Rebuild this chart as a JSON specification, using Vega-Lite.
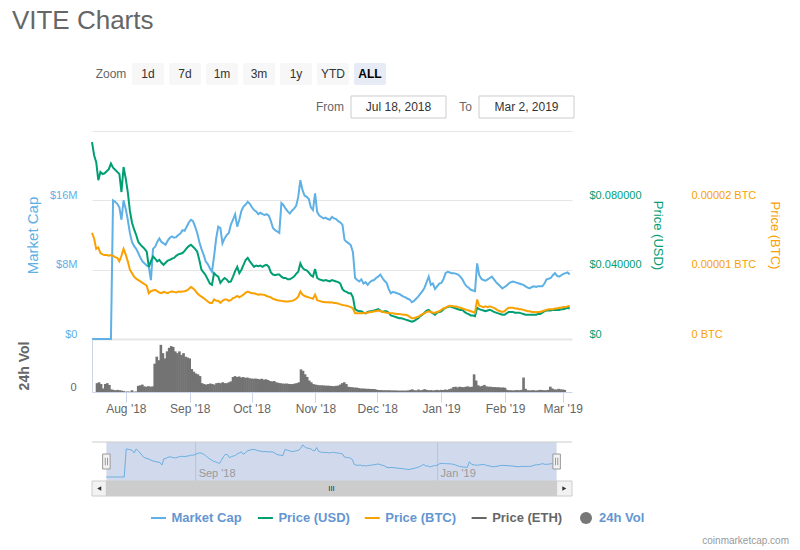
{
  "$schema": "https://vega.github.io/schema/vega-lite/v6.json",
  "padding": {"left": 11, "top": 8, "right": 4, "bottom": 0},
  "background": "#ffffff",
  "title": {
    "text": "VITE Charts",
    "anchor": "start",
    "fontSize": 26,
    "fontWeight": "normal",
    "color": "#666666",
    "offset": 28,
    "dx": -6
  },
  "bounds": "flush",
  "spacing": 0,
  "config": {
    "font": "Liberation Sans",
    "view": {"stroke": null},
    "axis": {"labelFontSize": 11}
  },
  "datasets": {
    "vite": [
      {"t": "2018-07-18", "mc": 0, "usd": 0.1136, "btc": 1.53e-5, "vol": 0.5},
      {"t": "2018-07-19", "mc": 0, "usd": 0.106, "btc": 1.45e-5, "vol": 0.55},
      {"t": "2018-07-20", "mc": 0, "usd": 0.102, "btc": 1.30e-5, "vol": 0.45},
      {"t": "2018-07-21", "mc": 0, "usd": 0.0916, "btc": 1.32e-5, "vol": 0.2},
      {"t": "2018-07-22", "mc": 0, "usd": 0.0964, "btc": 1.24e-5, "vol": 0.45},
      {"t": "2018-07-23", "mc": 0, "usd": 0.0952, "btc": 1.22e-5, "vol": 0.5},
      {"t": "2018-07-24", "mc": 0, "usd": 0.0956, "btc": 1.21e-5, "vol": 0.4},
      {"t": "2018-07-25", "mc": 0, "usd": 0.0968, "btc": 1.21e-5, "vol": 0.15},
      {"t": "2018-07-26", "mc": 0, "usd": 0.098, "btc": 1.20e-5, "vol": 0.12},
      {"t": "2018-07-27", "mc": 0, "usd": 0.1012, "btc": 1.21e-5, "vol": 0.1},
      {"t": "2018-07-28", "mc": 16.0, "usd": 0.0988, "btc": 1.20e-5, "vol": 0.12},
      {"t": "2018-07-29", "mc": 15.84, "usd": 0.0976, "btc": 1.18e-5, "vol": 0.1},
      {"t": "2018-07-30", "mc": 15.6, "usd": 0.0964, "btc": 1.17e-5, "vol": 0.08},
      {"t": "2018-07-31", "mc": 15.2, "usd": 0.0952, "btc": 1.12e-5, "vol": 0.05},
      {"t": "2018-08-01", "mc": 13.76, "usd": 0.0848, "btc": 1.20e-5, "vol": 0.02},
      {"t": "2018-08-02", "mc": 16.0, "usd": 0.0992, "btc": 1.30e-5, "vol": 0.03},
      {"t": "2018-08-03", "mc": 15.04, "usd": 0.0928, "btc": 1.22e-5, "vol": 0.02},
      {"t": "2018-08-04", "mc": 13.76, "usd": 0.0848, "btc": 1.12e-5, "vol": 0.1},
      {"t": "2018-08-05", "mc": 12.24, "usd": 0.074, "btc": 1.00e-5, "vol": 0.02},
      {"t": "2018-08-06", "mc": 11.2, "usd": 0.0672, "btc": 0.95e-5, "vol": 0.03},
      {"t": "2018-08-07", "mc": 10.72, "usd": 0.0632, "btc": 0.90e-5, "vol": 0.35},
      {"t": "2018-08-08", "mc": 10.4, "usd": 0.06, "btc": 0.87e-5, "vol": 0.38},
      {"t": "2018-08-09", "mc": 9.92, "usd": 0.056, "btc": 0.85e-5, "vol": 0.42},
      {"t": "2018-08-10", "mc": 9.36, "usd": 0.0544, "btc": 0.83e-5, "vol": 0.32},
      {"t": "2018-08-11", "mc": 8.96, "usd": 0.0532, "btc": 0.81e-5, "vol": 0.3},
      {"t": "2018-08-12", "mc": 8.72, "usd": 0.052, "btc": 0.79e-5, "vol": 0.33},
      {"t": "2018-08-13", "mc": 8.48, "usd": 0.0504, "btc": 0.77e-5, "vol": 0.3},
      {"t": "2018-08-14", "mc": 8.32, "usd": 0.0416, "btc": 0.66e-5, "vol": 0.32},
      {"t": "2018-08-15", "mc": 6.8, "usd": 0.0448, "btc": 0.69e-5, "vol": 1.6},
      {"t": "2018-08-16", "mc": 10.4, "usd": 0.0476, "btc": 0.70e-5, "vol": 2.0},
      {"t": "2018-08-17", "mc": 10.64, "usd": 0.0464, "btc": 0.71e-5, "vol": 1.8},
      {"t": "2018-08-18", "mc": 11.2, "usd": 0.0448, "btc": 0.69e-5, "vol": 2.67},
      {"t": "2018-08-19", "mc": 11.6, "usd": 0.0456, "btc": 0.67e-5, "vol": 2.2},
      {"t": "2018-08-20", "mc": 11.2, "usd": 0.044, "btc": 0.66e-5, "vol": 1.9},
      {"t": "2018-08-21", "mc": 11.04, "usd": 0.0428, "btc": 0.68e-5, "vol": 2.3},
      {"t": "2018-08-22", "mc": 10.88, "usd": 0.044, "btc": 0.67e-5, "vol": 2.5},
      {"t": "2018-08-23", "mc": 11.36, "usd": 0.0452, "btc": 0.66e-5, "vol": 2.6},
      {"t": "2018-08-24", "mc": 11.68, "usd": 0.0456, "btc": 0.68e-5, "vol": 2.55},
      {"t": "2018-08-25", "mc": 11.84, "usd": 0.0464, "btc": 0.685e-5, "vol": 2.3},
      {"t": "2018-08-26", "mc": 11.68, "usd": 0.0468, "btc": 0.68e-5, "vol": 2.2},
      {"t": "2018-08-27", "mc": 11.76, "usd": 0.048, "btc": 0.67e-5, "vol": 2.3},
      {"t": "2018-08-28", "mc": 12.0, "usd": 0.0488, "btc": 0.685e-5, "vol": 2.1},
      {"t": "2018-08-29", "mc": 12.16, "usd": 0.0492, "btc": 0.68e-5, "vol": 2.2},
      {"t": "2018-08-30", "mc": 12.56, "usd": 0.0496, "btc": 0.685e-5, "vol": 2.0},
      {"t": "2018-08-31", "mc": 12.48, "usd": 0.0508, "btc": 0.69e-5, "vol": 1.95},
      {"t": "2018-09-01", "mc": 12.96, "usd": 0.0524, "btc": 0.70e-5, "vol": 1.9},
      {"t": "2018-09-02", "mc": 13.44, "usd": 0.0536, "btc": 0.72e-5, "vol": 1.3},
      {"t": "2018-09-03", "mc": 13.76, "usd": 0.0544, "btc": 0.75e-5, "vol": 1.15},
      {"t": "2018-09-04", "mc": 13.6, "usd": 0.0532, "btc": 0.73e-5, "vol": 1.05},
      {"t": "2018-09-05", "mc": 12.96, "usd": 0.052, "btc": 0.70e-5, "vol": 1.0},
      {"t": "2018-09-06", "mc": 12.24, "usd": 0.0504, "btc": 0.66e-5, "vol": 0.9},
      {"t": "2018-09-07", "mc": 11.2, "usd": 0.0456, "btc": 0.63e-5, "vol": 0.5},
      {"t": "2018-09-08", "mc": 10.4, "usd": 0.04, "btc": 0.61e-5, "vol": 0.45},
      {"t": "2018-09-09", "mc": 9.76, "usd": 0.0384, "btc": 0.59e-5, "vol": 0.42},
      {"t": "2018-09-10", "mc": 8.96, "usd": 0.0368, "btc": 0.565e-5, "vol": 0.45},
      {"t": "2018-09-11", "mc": 8.64, "usd": 0.0344, "btc": 0.54e-5, "vol": 0.48},
      {"t": "2018-09-12", "mc": 8.16, "usd": 0.032, "btc": 0.52e-5, "vol": 0.45},
      {"t": "2018-09-13", "mc": 7.76, "usd": 0.0312, "btc": 0.52e-5, "vol": 0.42},
      {"t": "2018-09-14", "mc": 9.52, "usd": 0.038, "btc": 0.57e-5, "vol": 0.5},
      {"t": "2018-09-15", "mc": 11.6, "usd": 0.0368, "btc": 0.55e-5, "vol": 0.52},
      {"t": "2018-09-16", "mc": 12.96, "usd": 0.036, "btc": 0.55e-5, "vol": 0.5},
      {"t": "2018-09-17", "mc": 12.8, "usd": 0.0324, "btc": 0.52e-5, "vol": 0.55},
      {"t": "2018-09-18", "mc": 11.04, "usd": 0.034, "btc": 0.55e-5, "vol": 0.5},
      {"t": "2018-09-19", "mc": 11.6, "usd": 0.0352, "btc": 0.57e-5, "vol": 0.5},
      {"t": "2018-09-20", "mc": 12.0, "usd": 0.0344, "btc": 0.57e-5, "vol": 0.55},
      {"t": "2018-09-21", "mc": 12.24, "usd": 0.0328, "btc": 0.55e-5, "vol": 0.6},
      {"t": "2018-09-22", "mc": 13.2, "usd": 0.0332, "btc": 0.56e-5, "vol": 0.85},
      {"t": "2018-09-23", "mc": 13.76, "usd": 0.036, "btc": 0.59e-5, "vol": 0.9},
      {"t": "2018-09-24", "mc": 14.4, "usd": 0.0392, "btc": 0.60e-5, "vol": 0.85},
      {"t": "2018-09-25", "mc": 12.96, "usd": 0.0416, "btc": 0.62e-5, "vol": 0.88},
      {"t": "2018-09-26", "mc": 13.76, "usd": 0.038, "btc": 0.60e-5, "vol": 0.82},
      {"t": "2018-09-27", "mc": 14.8, "usd": 0.04, "btc": 0.62e-5, "vol": 0.85},
      {"t": "2018-09-28", "mc": 15.28, "usd": 0.0428, "btc": 0.64e-5, "vol": 0.8},
      {"t": "2018-09-29", "mc": 15.52, "usd": 0.0456, "btc": 0.67e-5, "vol": 0.82},
      {"t": "2018-09-30", "mc": 15.84, "usd": 0.0468, "btc": 0.685e-5, "vol": 0.78},
      {"t": "2018-10-01", "mc": 15.6, "usd": 0.0448, "btc": 0.67e-5, "vol": 0.76},
      {"t": "2018-10-02", "mc": 15.2, "usd": 0.0432, "btc": 0.66e-5, "vol": 0.75},
      {"t": "2018-10-03", "mc": 14.88, "usd": 0.0416, "btc": 0.66e-5, "vol": 0.76},
      {"t": "2018-10-04", "mc": 14.72, "usd": 0.0424, "btc": 0.65e-5, "vol": 0.74},
      {"t": "2018-10-05", "mc": 14.4, "usd": 0.042, "btc": 0.64e-5, "vol": 0.72},
      {"t": "2018-10-06", "mc": 14.56, "usd": 0.0424, "btc": 0.645e-5, "vol": 0.75},
      {"t": "2018-10-07", "mc": 14.4, "usd": 0.0416, "btc": 0.64e-5, "vol": 0.7},
      {"t": "2018-10-08", "mc": 14.32, "usd": 0.0424, "btc": 0.635e-5, "vol": 0.72},
      {"t": "2018-10-09", "mc": 14.4, "usd": 0.0428, "btc": 0.62e-5, "vol": 0.68},
      {"t": "2018-10-10", "mc": 14.24, "usd": 0.0416, "btc": 0.61e-5, "vol": 0.62},
      {"t": "2018-10-11", "mc": 13.6, "usd": 0.0384, "btc": 0.60e-5, "vol": 0.6},
      {"t": "2018-10-12", "mc": 12.8, "usd": 0.0372, "btc": 0.58e-5, "vol": 0.62},
      {"t": "2018-10-13", "mc": 12.56, "usd": 0.0368, "btc": 0.57e-5, "vol": 0.55},
      {"t": "2018-10-14", "mc": 12.4, "usd": 0.0372, "btc": 0.56e-5, "vol": 0.52},
      {"t": "2018-10-15", "mc": 12.24, "usd": 0.0372, "btc": 0.555e-5, "vol": 0.5},
      {"t": "2018-10-16", "mc": 15.68, "usd": 0.036, "btc": 0.55e-5, "vol": 0.48},
      {"t": "2018-10-17", "mc": 15.44, "usd": 0.0352, "btc": 0.545e-5, "vol": 0.47},
      {"t": "2018-10-18", "mc": 15.04, "usd": 0.0352, "btc": 0.54e-5, "vol": 0.48},
      {"t": "2018-10-19", "mc": 14.72, "usd": 0.0344, "btc": 0.54e-5, "vol": 0.46},
      {"t": "2018-10-20", "mc": 14.48, "usd": 0.0344, "btc": 0.545e-5, "vol": 0.45},
      {"t": "2018-10-21", "mc": 14.8, "usd": 0.0352, "btc": 0.55e-5, "vol": 0.45},
      {"t": "2018-10-22", "mc": 15.04, "usd": 0.036, "btc": 0.56e-5, "vol": 0.48},
      {"t": "2018-10-23", "mc": 15.36, "usd": 0.0376, "btc": 0.58e-5, "vol": 0.5},
      {"t": "2018-10-24", "mc": 16.4, "usd": 0.0388, "btc": 0.61e-5, "vol": 0.55},
      {"t": "2018-10-25", "mc": 18.32, "usd": 0.0436, "btc": 0.685e-5, "vol": 1.28},
      {"t": "2018-10-26", "mc": 17.2, "usd": 0.0412, "btc": 0.64e-5, "vol": 1.2},
      {"t": "2018-10-27", "mc": 16.56, "usd": 0.04, "btc": 0.62e-5, "vol": 1.0},
      {"t": "2018-10-28", "mc": 16.4, "usd": 0.0396, "btc": 0.61e-5, "vol": 0.85},
      {"t": "2018-10-29", "mc": 16.16, "usd": 0.0384, "btc": 0.60e-5, "vol": 0.65},
      {"t": "2018-10-30", "mc": 15.2, "usd": 0.0368, "btc": 0.59e-5, "vol": 0.55},
      {"t": "2018-10-31", "mc": 14.88, "usd": 0.036, "btc": 0.58e-5, "vol": 0.45},
      {"t": "2018-11-01", "mc": 16.8, "usd": 0.0404, "btc": 0.64e-5, "vol": 0.42},
      {"t": "2018-11-02", "mc": 14.64, "usd": 0.0352, "btc": 0.56e-5, "vol": 0.4},
      {"t": "2018-11-03", "mc": 14.24, "usd": 0.0344, "btc": 0.55e-5, "vol": 0.38},
      {"t": "2018-11-04", "mc": 14.08, "usd": 0.034, "btc": 0.54e-5, "vol": 0.38},
      {"t": "2018-11-05", "mc": 13.92, "usd": 0.0336, "btc": 0.535e-5, "vol": 0.37},
      {"t": "2018-11-06", "mc": 14.0, "usd": 0.034, "btc": 0.53e-5, "vol": 0.36},
      {"t": "2018-11-07", "mc": 13.84, "usd": 0.0336, "btc": 0.53e-5, "vol": 0.36},
      {"t": "2018-11-08", "mc": 13.76, "usd": 0.0332, "btc": 0.525e-5, "vol": 0.35},
      {"t": "2018-11-09", "mc": 14.08, "usd": 0.034, "btc": 0.53e-5, "vol": 0.34},
      {"t": "2018-11-10", "mc": 13.92, "usd": 0.0336, "btc": 0.52e-5, "vol": 0.33},
      {"t": "2018-11-11", "mc": 13.84, "usd": 0.0332, "btc": 0.52e-5, "vol": 0.35},
      {"t": "2018-11-12", "mc": 13.6, "usd": 0.0328, "btc": 0.51e-5, "vol": 0.36},
      {"t": "2018-11-13", "mc": 13.44, "usd": 0.032, "btc": 0.50e-5, "vol": 0.42},
      {"t": "2018-11-14", "mc": 13.2, "usd": 0.0288, "btc": 0.49e-5, "vol": 0.5},
      {"t": "2018-11-15", "mc": 11.44, "usd": 0.0276, "btc": 0.485e-5, "vol": 0.55},
      {"t": "2018-11-16", "mc": 11.2, "usd": 0.0272, "btc": 0.48e-5, "vol": 0.45},
      {"t": "2018-11-17", "mc": 11.04, "usd": 0.0264, "btc": 0.47e-5, "vol": 0.3},
      {"t": "2018-11-18", "mc": 10.8, "usd": 0.0264, "btc": 0.46e-5, "vol": 0.28},
      {"t": "2018-11-19", "mc": 10.0, "usd": 0.024, "btc": 0.44e-5, "vol": 0.27},
      {"t": "2018-11-20", "mc": 7.04, "usd": 0.0172, "btc": 0.37e-5, "vol": 0.25},
      {"t": "2018-11-21", "mc": 6.8, "usd": 0.0164, "btc": 0.37e-5, "vol": 0.25},
      {"t": "2018-11-22", "mc": 6.64, "usd": 0.016, "btc": 0.37e-5, "vol": 0.22},
      {"t": "2018-11-23", "mc": 6.88, "usd": 0.016, "btc": 0.375e-5, "vol": 0.2},
      {"t": "2018-11-24", "mc": 6.4, "usd": 0.0152, "btc": 0.37e-5, "vol": 0.2},
      {"t": "2018-11-25", "mc": 6.56, "usd": 0.0148, "btc": 0.38e-5, "vol": 0.19},
      {"t": "2018-11-26", "mc": 6.24, "usd": 0.0156, "btc": 0.38e-5, "vol": 0.18},
      {"t": "2018-11-27", "mc": 6.56, "usd": 0.016, "btc": 0.39e-5, "vol": 0.18},
      {"t": "2018-11-28", "mc": 6.72, "usd": 0.016, "btc": 0.39e-5, "vol": 0.17},
      {"t": "2018-11-29", "mc": 6.8, "usd": 0.0164, "btc": 0.40e-5, "vol": 0.17},
      {"t": "2018-11-30", "mc": 7.04, "usd": 0.0168, "btc": 0.40e-5, "vol": 0.16},
      {"t": "2018-12-01", "mc": 7.2, "usd": 0.0172, "btc": 0.41e-5, "vol": 0.12},
      {"t": "2018-12-02", "mc": 7.44, "usd": 0.0164, "btc": 0.405e-5, "vol": 0.11},
      {"t": "2018-12-03", "mc": 7.04, "usd": 0.0156, "btc": 0.39e-5, "vol": 0.11},
      {"t": "2018-12-04", "mc": 6.72, "usd": 0.016, "btc": 0.385e-5, "vol": 0.1},
      {"t": "2018-12-05", "mc": 6.48, "usd": 0.016, "btc": 0.38e-5, "vol": 0.1},
      {"t": "2018-12-06", "mc": 5.76, "usd": 0.0152, "btc": 0.375e-5, "vol": 0.1},
      {"t": "2018-12-07", "mc": 5.28, "usd": 0.0136, "btc": 0.37e-5, "vol": 0.1},
      {"t": "2018-12-08", "mc": 5.44, "usd": 0.0132, "btc": 0.37e-5, "vol": 0.09},
      {"t": "2018-12-09", "mc": 5.36, "usd": 0.0128, "btc": 0.365e-5, "vol": 0.09},
      {"t": "2018-12-10", "mc": 5.28, "usd": 0.0124, "btc": 0.36e-5, "vol": 0.09},
      {"t": "2018-12-11", "mc": 5.2, "usd": 0.012, "btc": 0.36e-5, "vol": 0.08},
      {"t": "2018-12-12", "mc": 5.04, "usd": 0.012, "btc": 0.355e-5, "vol": 0.08},
      {"t": "2018-12-13", "mc": 4.88, "usd": 0.0116, "btc": 0.35e-5, "vol": 0.08},
      {"t": "2018-12-14", "mc": 4.8, "usd": 0.0112, "btc": 0.35e-5, "vol": 0.08},
      {"t": "2018-12-15", "mc": 4.64, "usd": 0.0108, "btc": 0.34e-5, "vol": 0.08},
      {"t": "2018-12-16", "mc": 4.56, "usd": 0.0104, "btc": 0.32e-5, "vol": 0.09},
      {"t": "2018-12-17", "mc": 4.24, "usd": 0.01, "btc": 0.30e-5, "vol": 0.12},
      {"t": "2018-12-18", "mc": 4.4, "usd": 0.0104, "btc": 0.30e-5, "vol": 0.15},
      {"t": "2018-12-19", "mc": 4.64, "usd": 0.0112, "btc": 0.31e-5, "vol": 0.1},
      {"t": "2018-12-20", "mc": 4.88, "usd": 0.012, "btc": 0.32e-5, "vol": 0.09},
      {"t": "2018-12-21", "mc": 5.2, "usd": 0.0132, "btc": 0.34e-5, "vol": 0.14},
      {"t": "2018-12-22", "mc": 5.52, "usd": 0.014, "btc": 0.36e-5, "vol": 0.1},
      {"t": "2018-12-23", "mc": 5.92, "usd": 0.0152, "btc": 0.37e-5, "vol": 0.12},
      {"t": "2018-12-24", "mc": 6.56, "usd": 0.0164, "btc": 0.39e-5, "vol": 0.16},
      {"t": "2018-12-25", "mc": 7.2, "usd": 0.0168, "btc": 0.40e-5, "vol": 0.12},
      {"t": "2018-12-26", "mc": 6.24, "usd": 0.0156, "btc": 0.39e-5, "vol": 0.1},
      {"t": "2018-12-27", "mc": 6.4, "usd": 0.0148, "btc": 0.38e-5, "vol": 0.11},
      {"t": "2018-12-28", "mc": 5.76, "usd": 0.014, "btc": 0.38e-5, "vol": 0.09},
      {"t": "2018-12-29", "mc": 6.08, "usd": 0.0152, "btc": 0.39e-5, "vol": 0.1},
      {"t": "2018-12-30", "mc": 6.4, "usd": 0.0156, "btc": 0.40e-5, "vol": 0.12},
      {"t": "2018-12-31", "mc": 6.48, "usd": 0.016, "btc": 0.42e-5, "vol": 0.1},
      {"t": "2019-01-01", "mc": 6.88, "usd": 0.0172, "btc": 0.44e-5, "vol": 0.12},
      {"t": "2019-01-02", "mc": 7.6, "usd": 0.018, "btc": 0.45e-5, "vol": 0.11},
      {"t": "2019-01-03", "mc": 7.76, "usd": 0.0184, "btc": 0.47e-5, "vol": 0.14},
      {"t": "2019-01-04", "mc": 7.68, "usd": 0.0188, "btc": 0.48e-5, "vol": 0.12},
      {"t": "2019-01-05", "mc": 7.6, "usd": 0.0184, "btc": 0.475e-5, "vol": 0.16},
      {"t": "2019-01-06", "mc": 7.6, "usd": 0.018, "btc": 0.47e-5, "vol": 0.2},
      {"t": "2019-01-07", "mc": 7.52, "usd": 0.0176, "btc": 0.47e-5, "vol": 0.28},
      {"t": "2019-01-08", "mc": 7.44, "usd": 0.0172, "btc": 0.46e-5, "vol": 0.3},
      {"t": "2019-01-09", "mc": 7.2, "usd": 0.0168, "btc": 0.45e-5, "vol": 0.26},
      {"t": "2019-01-10", "mc": 6.88, "usd": 0.0168, "btc": 0.44e-5, "vol": 0.3},
      {"t": "2019-01-11", "mc": 6.4, "usd": 0.0156, "btc": 0.43e-5, "vol": 0.28},
      {"t": "2019-01-12", "mc": 6.08, "usd": 0.0148, "btc": 0.42e-5, "vol": 0.27},
      {"t": "2019-01-13", "mc": 5.92, "usd": 0.0144, "btc": 0.41e-5, "vol": 0.3},
      {"t": "2019-01-14", "mc": 5.68, "usd": 0.0136, "btc": 0.40e-5, "vol": 0.32},
      {"t": "2019-01-15", "mc": 5.6, "usd": 0.0136, "btc": 0.39e-5, "vol": 0.28},
      {"t": "2019-01-16", "mc": 5.52, "usd": 0.0132, "btc": 0.38e-5, "vol": 0.3},
      {"t": "2019-01-17", "mc": 8.72, "usd": 0.018, "btc": 0.57e-5, "vol": 1.0},
      {"t": "2019-01-18", "mc": 7.36, "usd": 0.0172, "btc": 0.48e-5, "vol": 0.65},
      {"t": "2019-01-19", "mc": 6.96, "usd": 0.0168, "btc": 0.47e-5, "vol": 0.38},
      {"t": "2019-01-20", "mc": 6.8, "usd": 0.0164, "btc": 0.46e-5, "vol": 0.32},
      {"t": "2019-01-21", "mc": 6.72, "usd": 0.016, "btc": 0.47e-5, "vol": 0.35},
      {"t": "2019-01-22", "mc": 6.88, "usd": 0.0164, "btc": 0.46e-5, "vol": 0.4},
      {"t": "2019-01-23", "mc": 7.04, "usd": 0.0168, "btc": 0.47e-5, "vol": 0.32},
      {"t": "2019-01-24", "mc": 7.2, "usd": 0.0164, "btc": 0.46e-5, "vol": 0.3},
      {"t": "2019-01-25", "mc": 6.88, "usd": 0.0156, "btc": 0.45e-5, "vol": 0.3},
      {"t": "2019-01-26", "mc": 6.56, "usd": 0.0152, "btc": 0.43e-5, "vol": 0.28},
      {"t": "2019-01-27", "mc": 6.32, "usd": 0.0148, "btc": 0.41e-5, "vol": 0.28},
      {"t": "2019-01-28", "mc": 6.08, "usd": 0.0144, "btc": 0.40e-5, "vol": 0.27},
      {"t": "2019-01-29", "mc": 5.84, "usd": 0.014, "btc": 0.39e-5, "vol": 0.27},
      {"t": "2019-01-30", "mc": 6.0, "usd": 0.014, "btc": 0.40e-5, "vol": 0.25},
      {"t": "2019-01-31", "mc": 6.16, "usd": 0.0148, "btc": 0.43e-5, "vol": 0.26},
      {"t": "2019-02-01", "mc": 6.4, "usd": 0.0156, "btc": 0.45e-5, "vol": 0.24},
      {"t": "2019-02-02", "mc": 6.56, "usd": 0.0156, "btc": 0.45e-5, "vol": 0.12},
      {"t": "2019-02-03", "mc": 6.64, "usd": 0.0156, "btc": 0.45e-5, "vol": 0.1},
      {"t": "2019-02-04", "mc": 6.56, "usd": 0.0152, "btc": 0.44e-5, "vol": 0.1},
      {"t": "2019-02-05", "mc": 6.48, "usd": 0.0152, "btc": 0.44e-5, "vol": 0.09},
      {"t": "2019-02-06", "mc": 6.4, "usd": 0.0152, "btc": 0.43e-5, "vol": 0.1},
      {"t": "2019-02-07", "mc": 6.32, "usd": 0.0148, "btc": 0.43e-5, "vol": 0.11},
      {"t": "2019-02-08", "mc": 6.24, "usd": 0.0144, "btc": 0.42e-5, "vol": 0.1},
      {"t": "2019-02-09", "mc": 6.08, "usd": 0.014, "btc": 0.41e-5, "vol": 0.12},
      {"t": "2019-02-10", "mc": 5.92, "usd": 0.014, "btc": 0.40e-5, "vol": 0.82},
      {"t": "2019-02-11", "mc": 5.84, "usd": 0.014, "btc": 0.40e-5, "vol": 0.18},
      {"t": "2019-02-12", "mc": 6.0, "usd": 0.014, "btc": 0.39e-5, "vol": 0.1},
      {"t": "2019-02-13", "mc": 6.08, "usd": 0.014, "btc": 0.39e-5, "vol": 0.09},
      {"t": "2019-02-14", "mc": 6.0, "usd": 0.014, "btc": 0.385e-5, "vol": 0.1},
      {"t": "2019-02-15", "mc": 6.08, "usd": 0.0144, "btc": 0.39e-5, "vol": 0.1},
      {"t": "2019-02-16", "mc": 6.08, "usd": 0.0144, "btc": 0.39e-5, "vol": 0.08},
      {"t": "2019-02-17", "mc": 6.08, "usd": 0.0152, "btc": 0.40e-5, "vol": 0.1},
      {"t": "2019-02-18", "mc": 6.4, "usd": 0.016, "btc": 0.41e-5, "vol": 0.12},
      {"t": "2019-02-19", "mc": 6.88, "usd": 0.0164, "btc": 0.42e-5, "vol": 0.11},
      {"t": "2019-02-20", "mc": 6.96, "usd": 0.0164, "btc": 0.43e-5, "vol": 0.1},
      {"t": "2019-02-21", "mc": 7.04, "usd": 0.0164, "btc": 0.43e-5, "vol": 0.1},
      {"t": "2019-02-22", "mc": 7.36, "usd": 0.0168, "btc": 0.43e-5, "vol": 0.12},
      {"t": "2019-02-23", "mc": 7.6, "usd": 0.0168, "btc": 0.44e-5, "vol": 0.3},
      {"t": "2019-02-24", "mc": 7.28, "usd": 0.0168, "btc": 0.44e-5, "vol": 0.2},
      {"t": "2019-02-25", "mc": 7.2, "usd": 0.0168, "btc": 0.45e-5, "vol": 0.15},
      {"t": "2019-02-26", "mc": 7.36, "usd": 0.0172, "btc": 0.45e-5, "vol": 0.14},
      {"t": "2019-02-27", "mc": 7.52, "usd": 0.0172, "btc": 0.46e-5, "vol": 0.18},
      {"t": "2019-02-28", "mc": 7.6, "usd": 0.0176, "btc": 0.46e-5, "vol": 0.15},
      {"t": "2019-03-01", "mc": 7.68, "usd": 0.018, "btc": 0.47e-5, "vol": 0.14},
      {"t": "2019-03-02", "mc": 7.44, "usd": 0.0176, "btc": 0.48e-5, "vol": 0.12}
    ],
    "buttons": [
      {"label": "Zoom", "kind": "label", "row": "zoom"},
      {"label": "1d", "kind": "button", "row": "zoom"},
      {"label": "7d", "kind": "button", "row": "zoom"},
      {"label": "1m", "kind": "button", "row": "zoom"},
      {"label": "3m", "kind": "button", "row": "zoom"},
      {"label": "1y", "kind": "button", "row": "zoom"},
      {"label": "YTD", "kind": "button", "row": "zoom"},
      {"label": "ALL", "kind": "active", "row": "zoom"}
    ],
    "range": [
      {"label": "From", "value": "Jul 18, 2018", "row": "range"},
      {"label": "To", "value": "Mar 2, 2019", "row": "range"}
    ],
    "navWin": [
      {"start": "2018-07-18T00:00:00Z", "end": "2019-03-02T00:00:00Z", "lo": "2018-07-10T18:00:00Z", "hi": "2019-03-09T18:00:00Z"}
    ],
    "navTicks": [
      {"t": "2018-09-01T00:00:00Z", "label": "Sep '18"},
      {"t": "2019-01-01T00:00:00Z", "label": "Jan '19"}
    ],
    "handles": [
      {"t": "2018-07-18T00:00:00Z"},
      {"t": "2019-03-02T00:00:00Z"}
    ],
    "scroll": [
      {"part": "left", "start": "2018-07-10T18:00:00Z", "end": "2018-07-18T00:00:00Z", "mid": "2018-07-14T09:00:00Z"},
      {"part": "thumb", "start": "2018-07-18T00:00:00Z", "end": "2019-03-02T00:00:00Z", "mid": "2018-11-08T12:00:00Z"},
      {"part": "right", "start": "2019-03-02T00:00:00Z", "end": "2019-03-09T18:00:00Z", "mid": "2019-03-05T21:00:00Z"}
    ],
    "legendItems": [
      {"series": "Market Cap"},
      {"series": "Price (USD)"},
      {"series": "Price (BTC)"},
      {"series": "Price (ETH)"},
      {"series": "24h Vol"}
    ]
  },
  "vconcat": [
    {
      "width": 480,
      "height": 69,
      "layer": [
        {
          "data": {"name": "buttons"},
          "encoding": {
            "x": {"field": "label", "type": "nominal", "sort": null, "axis": null,
                  "scale": {"domain": ["Zoom", "1d", "7d", "1m", "3m", "1y", "YTD", "ALL"], "range": [3, 294], "paddingInner": 0.135, "paddingOuter": 0}},
            "y": {"field": "row", "type": "nominal", "axis": null,
                  "scale": {"domain": ["zoom", "range"], "range": [1, 56], "paddingInner": 0.3333, "paddingOuter": 0}}
          },
          "layer": [
            {
              "transform": [{"filter": "datum.kind !== 'label'"}],
              "mark": {"type": "rect", "cornerRadius": 2},
              "encoding": {
                "fill": {"condition": {"test": "datum.kind === 'active'", "value": "#e6ebf5"}, "value": "#f7f7f7"}
              }
            },
            {
              "transform": [{"filter": "datum.kind !== 'active'"}],
              "mark": {"type": "text", "fontSize": 12, "baseline": "middle"},
              "encoding": {
                "text": {"field": "label"},
                "color": {"condition": {"test": "datum.kind === 'label'", "value": "#666666"}, "value": "#333333"}
              }
            },
            {
              "transform": [{"filter": "datum.kind === 'active'"}],
              "mark": {"type": "text", "fontSize": 12, "fontWeight": "bold", "baseline": "middle", "color": "#000000"},
              "encoding": {"text": {"field": "label"}}
            }
          ]
        },
        {
          "data": {"name": "range"},
          "encoding": {
            "x": {"field": "label", "type": "nominal", "sort": null, "axis": null,
                  "scale": {"domain": ["From", "To"], "range": [259, 482], "paddingInner": 0.258, "paddingOuter": 0}},
            "y": {"field": "row", "type": "nominal", "axis": null,
                  "scale": {"domain": ["zoom", "range"], "range": [1, 56], "paddingInner": 0.3333, "paddingOuter": 0}}
          },
          "layer": [
            {"mark": {"type": "rect", "fill": "#ffffff", "stroke": "#cccccc", "strokeWidth": 1}},
            {
              "mark": {"type": "text", "fontSize": 12, "baseline": "middle", "color": "#333333"},
              "encoding": {"text": {"field": "value"}}
            },
            {
              "mark": {"type": "text", "fontSize": 12, "baseline": "middle", "align": "right", "dx": -7, "color": "#666666"},
              "encoding": {
                "x": {"field": "label", "type": "nominal", "bandPosition": 0},
                "text": {"field": "label"}
              }
            }
          ]
        }
      ],
      "resolve": {"scale": {"x": "independent"}}
    },
    {
      "width": 480,
      "height": 208,
      "data": {"name": "vite"},
      "encoding": {
        "x": {
          "field": "t", "type": "temporal",
          "scale": {"type": "utc", "domain": [{"year": 2018, "month": 7, "date": 18, "utc": true}, {"year": 2019, "month": 3, "date": 3, "hours": 2, "utc": true}]},
          "axis": {"labels": false, "ticks": false, "grid": false, "title": null, "domain": true, "domainColor": "#e6e6e6", "domainWidth": 2}
        }
      },
      "layer": [
        {
          "mark": {"type": "line", "color": "#5eb0e5", "strokeWidth": 2},
          "encoding": {
            "y": {
              "field": "mc", "type": "quantitative",
              "scale": {"domain": [0, 24], "nice": false},
              "axis": {
                "orient": "left", "values": [0, 8, 16, 24],
                "labelExpr": "datum.value == 24 ? '' : (datum.value == 0 ? '$0' : '$' + datum.value + 'M')",
                "grid": true, "gridColor": "#e6e6e6", "domain": false, "ticks": false,
                "labelPadding": 15, "labelBaseline": "bottom", "labelColor": "#5eb0e5", "labelFontSize": 11,
                "title": "Market Cap", "titleColor": "#5eb0e5", "titleFontSize": 15, "titleFontWeight": "normal", "titlePadding": 9
              }
            }
          }
        },
        {
          "mark": {"type": "line", "color": "#009e73", "strokeWidth": 2},
          "encoding": {
            "y": {
              "field": "usd", "type": "quantitative",
              "scale": {"domain": [0, 0.12], "nice": false},
              "axis": {
                "orient": "right", "values": [0, 0.04, 0.08],
                "labelExpr": "datum.value == 0 ? '$0' : '$' + format(datum.value, '.6f')",
                "grid": false, "domain": false, "ticks": false,
                "labelPadding": 17, "labelBaseline": "bottom", "labelColor": "#009e73", "labelFontSize": 11,
                "title": "Price (USD)", "titleColor": "#009e73", "titleFontSize": 13, "titleFontWeight": "normal", "titlePadding": 10
              }
            }
          }
        },
        {
          "mark": {"type": "line", "color": "#f9a100", "strokeWidth": 2},
          "encoding": {
            "y": {
              "field": "btc", "type": "quantitative",
              "scale": {"domain": [0, 3e-5], "nice": false},
              "axis": {
                "orient": "right", "offset": 102, "values": [0, 1e-5, 2e-5],
                "labelExpr": "datum.value == 0 ? '0 BTC' : format(datum.value, '.5f') + ' BTC'",
                "grid": false, "domain": false, "ticks": false,
                "labelPadding": 17, "labelBaseline": "bottom", "labelColor": "#f9a100", "labelFontSize": 11,
                "title": "Price (BTC)", "titleColor": "#f9a100", "titleFontSize": 13, "titleFontWeight": "normal", "titlePadding": 12
              }
            }
          }
        }
      ],
      "resolve": {"scale": {"y": "independent"}}
    },
    {
      "width": 480,
      "height": 53,
      "data": {"name": "vite"},
      "mark": {"type": "bar", "color": "#737373", "width": 2.6},
      "encoding": {
        "x": {
          "field": "t", "type": "temporal",
          "scale": {"type": "utc", "domain": [{"year": 2018, "month": 7, "date": 18, "utc": true}, {"year": 2019, "month": 3, "date": 3, "hours": 2, "utc": true}]},
          "axis": {
            "values": [
              {"year": 2018, "month": 8, "date": 1, "utc": true},
              {"year": 2018, "month": 9, "date": 1, "utc": true},
              {"year": 2018, "month": 10, "date": 1, "utc": true},
              {"year": 2018, "month": 11, "date": 1, "utc": true},
              {"year": 2018, "month": 12, "date": 1, "utc": true},
              {"year": 2019, "month": 1, "date": 1, "utc": true},
              {"year": 2019, "month": 2, "date": 1, "utc": true},
              {"year": 2019, "month": 3, "date": 1, "utc": true}
            ],
            "labelExpr": "utcFormat(datum.value, \"%b '%y\")",
            "title": null, "grid": false,
            "domainColor": "#ccd6eb", "tickColor": "#ccd6eb", "tickSize": 10,
            "labelPadding": 1, "labelColor": "#666666", "labelFontSize": 12,
            "labelFlush": false, "labelOverlap": false
          }
        },
        "y": {
          "field": "vol", "type": "quantitative",
          "scale": {"domain": [0, 3], "nice": false},
          "axis": {
            "values": [0], "labelExpr": "'0'",
            "grid": false, "ticks": false, "domain": true, "domainColor": "#ccd6eb",
            "labelPadding": 16, "labelBaseline": "bottom", "labelColor": "#666666", "labelFontSize": 11,
            "title": "24h Vol", "titleColor": "#666666", "titleFontSize": 14, "titleFontWeight": "bold", "titlePadding": 38
          }
        }
      }
    },
    {
      "width": 480,
      "height": 89,
      "layer": [
        {
          "data": {"name": "navWin"},
          "mark": {"type": "rect", "color": "#6685c2", "opacity": 0.3},
          "encoding": {
            "x": {"field": "start", "type": "temporal", "axis": null,
                  "scale": {"type": "utc", "domain": [{"year": 2018, "month": 7, "date": 10, "hours": 18, "utc": true}, {"year": 2019, "month": 3, "date": 9, "hours": 18, "utc": true}]}},
            "x2": {"field": "end"},
            "y": {"datum": 20, "type": "quantitative", "axis": null, "scale": {"domain": [-2.3, 20], "range": [89, 50], "nice": false, "zero": false}},
            "y2": {"datum": -2.3}
          }
        },
        {
          "data": {"name": "navTicks"},
          "mark": {"type": "rule", "color": "#b9c3d8", "strokeWidth": 1},
          "encoding": {
            "x": {"field": "t", "type": "temporal"},
            "y": {"datum": 20, "type": "quantitative"},
            "y2": {"datum": -2.3}
          }
        },
        {
          "data": {"name": "navTicks"},
          "mark": {"type": "text", "align": "left", "baseline": "bottom", "dx": 3, "dy": -2, "fontSize": 11, "color": "#999999"},
          "encoding": {
            "x": {"field": "t", "type": "temporal"},
            "y": {"datum": -2.3, "type": "quantitative"},
            "text": {"field": "label"}
          }
        },
        {
          "data": {"name": "vite"},
          "mark": {"type": "line", "color": "#6aaee0", "strokeWidth": 1},
          "encoding": {
            "x": {"field": "t", "type": "temporal"},
            "y": {"field": "mc", "type": "quantitative"}
          }
        },
        {
          "data": {"name": "navWin"},
          "mark": {"type": "rule", "color": "#cccccc", "strokeWidth": 1},
          "encoding": {
            "x": {"field": "lo", "type": "temporal"},
            "x2": {"field": "hi"},
            "y": {"datum": 20, "type": "quantitative"}
          }
        },
        {
          "data": {"name": "handles"},
          "mark": {"type": "point", "shape": "M-0.5,-1H0.5V1H-0.5Z M-0.15,-0.5V0.5 M0.15,-0.5V0.5", "size": 225, "filled": true, "fill": "#f2f2f2", "stroke": "#999999", "strokeWidth": 1, "opacity": 1},
          "encoding": {
            "x": {"field": "t", "type": "temporal"},
            "y": {"datum": 8.85, "type": "quantitative"}
          }
        }
      ]
    },
    {
      "width": 480,
      "height": 15,
      "data": {"name": "scroll"},
      "encoding": {
        "x": {"field": "start", "type": "temporal", "axis": null,
              "scale": {"type": "utc", "domain": [{"year": 2018, "month": 7, "date": 10, "hours": 18, "utc": true}, {"year": 2019, "month": 3, "date": 9, "hours": 18, "utc": true}]}}
      },
      "layer": [
        {
          "mark": {"type": "rect", "stroke": "#cccccc", "strokeWidth": 1},
          "encoding": {
            "x2": {"field": "end"},
            "fill": {"condition": {"test": "datum.part === 'thumb'", "value": "#cccccc"}, "value": "#f2f2f2"}
          }
        },
        {
          "transform": [{"filter": "datum.part === 'left'"}],
          "mark": {"type": "point", "shape": "triangle-left", "filled": true, "fill": "#333333", "strokeWidth": 0, "size": 22, "opacity": 1},
          "encoding": {"x": {"field": "mid", "type": "temporal"}}
        },
        {
          "transform": [{"filter": "datum.part === 'right'"}],
          "mark": {"type": "point", "shape": "triangle-right", "filled": true, "fill": "#333333", "strokeWidth": 0, "size": 22, "opacity": 1},
          "encoding": {"x": {"field": "mid", "type": "temporal"}}
        },
        {
          "transform": [{"filter": "datum.part === 'thumb'"}],
          "mark": {"type": "text", "text": "III", "fontSize": 8, "color": "#333333", "fill": "#333333", "baseline": "middle"},
          "encoding": {"x": {"field": "mid", "type": "temporal"}}
        }
      ]
    },
    {
      "width": 480,
      "height": 44,
      "title": {"text": "coinmarketcap.com", "orient": "bottom", "anchor": "end", "frame": "group", "dx": 217, "offset": -4, "fontSize": 10, "fontWeight": "normal", "color": "#999999"},
      "data": {"name": "legendItems"},
      "encoding": {
        "x": {"field": "series", "type": "nominal", "sort": null, "axis": null,
              "scale": {"type": "point", "domain": ["Market Cap", "Price (USD)", "Price (BTC)", "Price (ETH)", "24h Vol"], "range": [66.5, 494], "padding": 0}}
      },
      "layer": [
        {
          "transform": [{"filter": "datum.series !== '24h Vol'"}],
          "mark": {"type": "point", "shape": "stroke", "filled": false, "strokeWidth": 2, "size": 225, "opacity": 1},
          "encoding": {
            "stroke": {"field": "series", "type": "nominal", "legend": null,
                       "scale": {"domain": ["Market Cap", "Price (USD)", "Price (BTC)", "Price (ETH)"], "range": ["#5eb0e5", "#009e73", "#f9a100", "#666666"]}}
          }
        },
        {
          "transform": [{"filter": "datum.series === '24h Vol'"}],
          "mark": {"type": "point", "shape": "circle", "filled": true, "fill": "#777777", "size": 144, "opacity": 1}
        },
        {
          "mark": {"type": "text", "align": "left", "baseline": "middle", "dx": 13, "fontSize": 13, "fontWeight": "bold"},
          "encoding": {
            "text": {"field": "series"},
            "color": {"condition": {"test": "datum.series === 'Price (ETH)'", "value": "#666666"}, "value": "#6496d2"}
          }
        }
      ],
      "resolve": {"scale": {"x": "shared"}}
    }
  ],
  "resolve": {"scale": {"stroke": "independent", "shape": "independent", "color": "independent"}}
}
